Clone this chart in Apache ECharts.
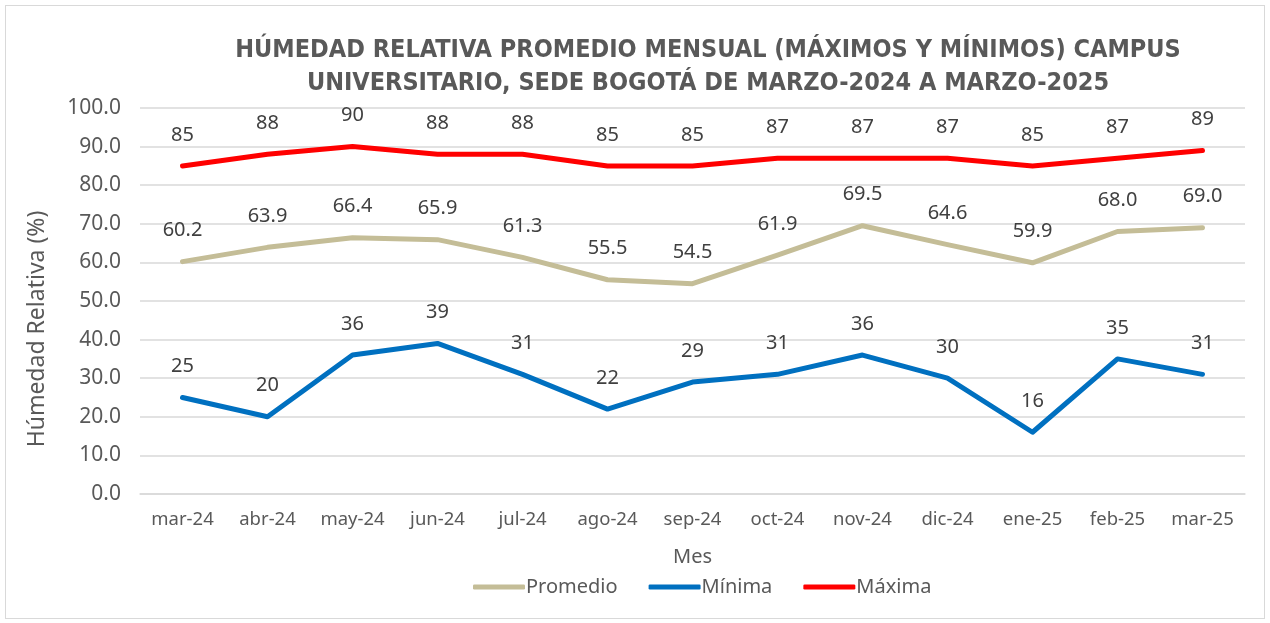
<!DOCTYPE html>
<html><head><meta charset="utf-8">
<script src="https://cdn.jsdelivr.net/npm/echarts@6/dist/echarts.min.js"></script>
<style>html,body{margin:0;padding:0;background:#fff}#frame{position:absolute;left:5px;top:5px;width:1258px;height:612px;border:1px solid #d9d9d9}#c{position:absolute;left:0;top:0;width:1270px;height:623px}</style>
</head><body><div id="frame"></div><div id="c"></div>
<script>
const categories = ['mar-24','abr-24','may-24','jun-24','jul-24','ago-24','sep-24','oct-24','nov-24','dic-24','ene-25','feb-25','mar-25'];
const promedio = [60.2,63.9,66.4,65.9,61.3,55.5,54.5,61.9,69.5,64.6,59.9,68.0,69.0];
const minima = [25,20,36,39,31,22,29,31,36,30,16,35,31];
const maxima = [85,88,90,88,88,85,85,87,87,87,85,87,89];
const titleText = 'HÚMEDAD RELATIVA PROMEDIO MENSUAL (MÁXIMOS Y MÍNIMOS) CAMPUS\nUNIVERSITARIO, SEDE BOGOTÁ DE MARZO-2024 A MARZO-2025';
const yName = 'Húmedad Relativa (%)';

const chart = echarts.init(document.getElementById('c'));
const font = '"Noto Sans","Open Sans",sans-serif';
function ser(name, data, color, dec){
  return {name, type:'line', data, symbol:'circle', symbolSize:0.01, showSymbol:true,
    lineStyle:{width:5, color, cap:'round', join:'round'}, itemStyle:{color},
    label:{show:true, position:'top', distance:21, color:'#404040', fontSize:20, fontFamily:font,
      formatter:p=>Number(p.value).toFixed(dec)}};
}
chart.setOption({
  animation:false,
  title:{text:titleText, left:703, textAlign:'center', top:29,
    textStyle:{fontFamily:'"Liberation Sans Narrow","DejaVu Sans Condensed",sans-serif', fontWeight:'bold', fontSize:25, color:'#595959', lineHeight:33}},
  graphic:[{type:'text', x:37, y:329, rotation:Math.PI/2,
    style:{text:yName, fontFamily:font, fontSize:23, fill:'#595959', align:'center', verticalAlign:'middle'}}],
  grid:{left:140, right:25, top:108, bottom:129},
  legend:{bottom:21, left:468, itemWidth:52, itemHeight:5, itemGap:31,
    icon:'roundRect',
    textStyle:{fontFamily:font, fontSize:20, color:'#595959', padding:[0,0,0,-4]},
    data:['Promedio','Mínima','Máxima']},
  xAxis:{type:'category', data:categories, boundaryGap:true,
    name:'Mes', nameLocation:'middle', nameGap:53,
    nameTextStyle:{fontFamily:font, fontSize:20, color:'#595959'},
    axisLine:{lineStyle:{color:'#d9d9d9', width:1.5}}, axisTick:{show:false},
    axisLabel:{interval:0, fontFamily:font, fontSize:18.5, color:'#595959', margin:16}},
  yAxis:{type:'value', min:0, max:100, interval:10,
    axisLine:{show:false}, axisTick:{show:false},
    axisLabel:{fontFamily:font, fontSize:21, color:'#595959', margin:19, formatter:v=>v.toFixed(1)},
    splitLine:{lineStyle:{color:'#d9d9d9', width:1.5}}},
  series:[ser('Promedio', promedio, '#C4BD97', 1), ser('Mínima', minima, '#0070C0', 0), ser('Máxima', maxima, '#FF0000', 0)]
});
</script></body></html>
